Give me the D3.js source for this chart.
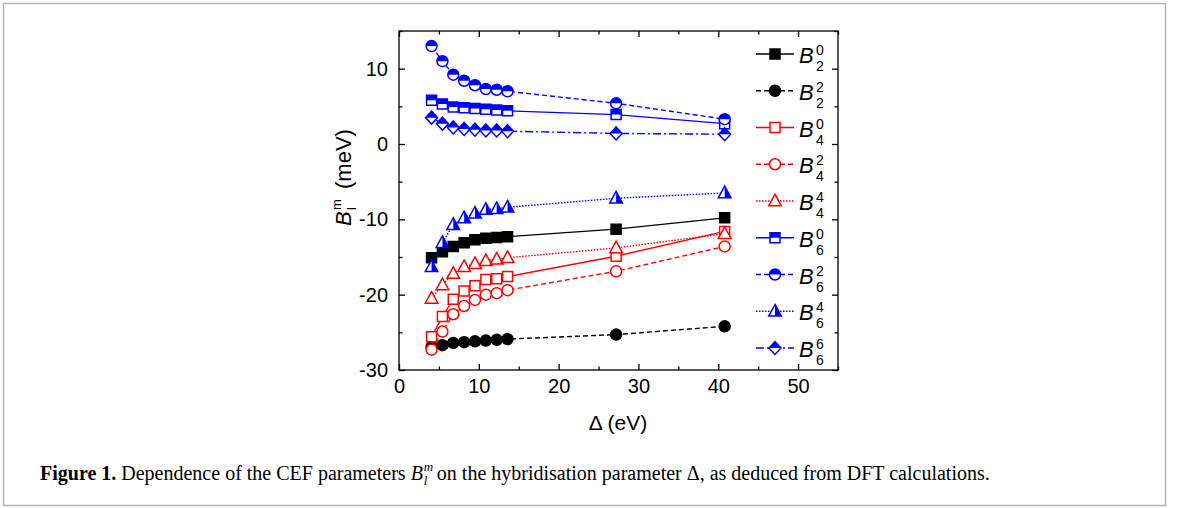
<!DOCTYPE html>
<html>
<head>
<meta charset="utf-8">
<script src="https://cdn.jsdelivr.net/npm/d3@7"></script>
<style>
  body { margin: 0; background: #fff; }
</style>
</head>
<body>
<svg id="chart" width="1179" height="508" font-family="'Liberation Sans', Arial, sans-serif"></svg>
<script>
// hybridisation parameter (eV)
const delta = [4.08, 5.44, 6.80, 8.16, 9.52, 10.88, 12.24, 13.6, 27.2, 40.8];

// CEF parameters (meV)
const B20 = [-15.1, -14.3, -13.6, -13.1, -12.7, -12.5, -12.4, -12.3, -11.3, -9.8];
const B22 = [-26.9, -26.7, -26.4, -26.3, -26.2, -26.1, -26.0, -25.9, -25.3, -24.2];
const B40 = [-25.6, -22.9, -20.6, -19.5, -18.8, -18.0, -17.9, -17.6, -14.9, -11.6];
const B42 = [-27.3, -24.9, -22.6, -21.5, -20.7, -20.0, -19.8, -19.4, -16.9, -13.6];
const B44 = [-20.5, -18.7, -17.2, -16.3, -15.9, -15.5, -15.3, -15.1, -13.8, -11.9];
const B60 = [5.8, 5.3, 4.9, 4.8, 4.7, 4.6, 4.5, 4.4, 3.9, 2.7];
const B62 = [13.0, 11.0, 9.2, 8.4, 7.8, 7.3, 7.2, 7.0, 5.4, 3.3];
const B64 = [-16.3, -13.1, -10.7, -9.8, -9.2, -8.7, -8.6, -8.4, -7.2, -6.5];
const B66 = [3.5, 2.7, 2.2, 2.0, 1.9, 1.8, 1.8, 1.7, 1.4, 1.3];

const xTicks = [0, 10, 20, 30, 40, 50];
const yTicks = [-30, -20, -10, 0, 10];

const series = [
  {l: 2, m: 0, values: B20, color: '#000', dash: null, shape: 'square', fill: 'full'},
  {l: 2, m: 2, values: B22, color: '#000', dash: '5,3', shape: 'circle', fill: 'full'},
  {l: 4, m: 0, values: B40, color: '#f00', dash: null, shape: 'square', fill: 'open'},
  {l: 4, m: 2, values: B42, color: '#f00', dash: '5,3', shape: 'circle', fill: 'open'},
  {l: 4, m: 4, values: B44, color: '#f00', dash: '1.5,1.5', shape: 'triangle', fill: 'open'},
  {l: 6, m: 0, values: B60, color: '#00f', dash: null, shape: 'square', fill: 'up'},
  {l: 6, m: 2, values: B62, color: '#00f', dash: '5,3', shape: 'circle', fill: 'up'},
  {l: 6, m: 4, values: B64, color: '#00f', dash: '1.5,1.5', shape: 'triangle', fill: 'right'},
  {l: 6, m: 6, values: B66, color: '#00f', dash: '8,3,2,3', shape: 'diamond', fill: 'up'}
]

const svg = d3.select('#chart')

// outer figure border
svg.append('rect')
  .attr('x', 3.5).attr('y', 3.5)
  .attr('width', 1162).attr('height', 502)
  .attr('fill', 'none')
  .attr('stroke', '#b4b4b4')
  .attr('stroke-width', 1.5)

const x = d3.scaleLinear().domain([0, 55]).range([399, 838])
const y = d3.scaleLinear().domain([-30, 15]).range([370, 31])

const defs = svg.append('defs')
defs.append('clipPath').attr('id', 'topHalf')
  .attr('clipPathUnits', 'objectBoundingBox')
  .append('rect').attr('x', -0.1).attr('y', -0.1).attr('width', 1.2).attr('height', 0.6)
defs.append('clipPath').attr('id', 'rightHalf')
  .attr('clipPathUnits', 'objectBoundingBox')
  .append('rect').attr('x', 0.5).attr('y', -0.1).attr('width', 0.6).attr('height', 1.2)

// plain hyphen minus like the original
const fmt = d => String(d)

// axes: ticks inward on all four sides
function addAxis(axisFn, transform, values, size, labels) {
  const a = axisFn
    .tickValues(values)
    .tickSize(-size)
    .tickPadding(labels ? 4 : 0)
    .tickFormat(labels ? fmt : '')
  const g = svg.append('g').attr('transform', transform).call(a)
  g.select('.domain').remove()
  g.selectAll('line').attr('stroke', '#000').attr('stroke-width', 1.3)
  g.selectAll('text')
    .attr('font-family', '"Liberation Sans", Arial, sans-serif')
    .attr('font-size', 20)
    .attr('fill', '#000')
  return g
}

const xMinor = [5, 15, 25, 35, 45, 55]
const yMinor = [-25, -15, -5, 5, 15]

const gx = addAxis(d3.axisBottom(x), 'translate(0,370)', xTicks, 6, true)
gx.selectAll('text').attr('dy', '0.95em')
addAxis(d3.axisBottom(x), 'translate(0,370)', xMinor, 3.5, false)
addAxis(d3.axisTop(x), 'translate(0,31)', xTicks, -6, false).selectAll('line').attr('y2', 6)
addAxis(d3.axisTop(x), 'translate(0,31)', xMinor, -3.5, false).selectAll('line').attr('y2', 3.5)

const gy = addAxis(d3.axisLeft(y), 'translate(399,0)', yTicks, 6, true)
gy.selectAll('text').attr('x', -11)
addAxis(d3.axisLeft(y), 'translate(399,0)', yMinor, 3.5, false)
addAxis(d3.axisRight(y), 'translate(838,0)', yTicks, 6, false).selectAll('line').attr('x2', -6)
addAxis(d3.axisRight(y), 'translate(838,0)', yMinor, 3.5, false).selectAll('line').attr('x2', -3.5)

// frame
svg.append('rect')
  .attr('x', x(0)).attr('y', y(15))
  .attr('width', x(55) - x(0)).attr('height', y(-30) - y(15))
  .attr('fill', 'none')
  .attr('stroke', '#000')
  .attr('stroke-width', 1.3)

function shapePath(shape) {
  if (shape == 'square') return 'M-5,-5H5V5H-5Z'
  if (shape == 'circle') return 'M-5.5,0A5.5,5.5 0 1,0 5.5,0A5.5,5.5 0 1,0 -5.5,0Z'
  if (shape == 'triangle') return 'M0,-6.8L6.3,4.8H-6.3Z'
  return 'M0,-6.5L6,0L0,6.5L-6,0Z'
}

function drawMarker(g, s, cx, cy) {
  const m = g.append('g').attr('transform', `translate(${cx},${cy})`)
  const d = shapePath(s.shape)
  m.append('path').attr('d', d)
    .attr('fill', s.fill == 'full' ? s.color : '#fff')
    .attr('stroke', s.color)
    .attr('stroke-width', 1.5)
  if (s.fill == 'up' || s.fill == 'right') {
    m.append('path').attr('d', d)
      .attr('fill', s.color)
      .attr('clip-path', s.fill == 'up' ? 'url(#topHalf)' : 'url(#rightHalf)')
  }
}

const line = d3.line()
  .x(d => x(d[0]))
  .y(d => y(d[1]))

const plotG = svg.append('g')
series.forEach(s => {
  const pts = delta.map((d, i) => [d, s.values[i]])
  plotG.append('path')
    .attr('d', line(pts))
    .attr('fill', 'none')
    .attr('stroke', s.color)
    .attr('stroke-width', 1.4)
    .attr('stroke-dasharray', s.dash)
  pts.forEach(p => drawMarker(plotG, s, x(p[0]), y(p[1])))
})

// legend
const legendY = d3.scalePoint()
  .domain(series.map((s, i) => i))
  .range([54, 348])

const legG = svg.append('g')
series.forEach((s, i) => {
  const ly = legendY(i)
  legG.append('line')
    .attr('x1', 756).attr('x2', 794)
    .attr('y1', ly).attr('y2', ly)
    .attr('stroke', s.color)
    .attr('stroke-width', 1.4)
    .attr('stroke-dasharray', s.dash)
  drawMarker(legG, s, 775, ly)
  legG.append('text')
    .attr('x', 799).attr('y', ly + 9)
    .attr('font-size', 22)
    .attr('font-style', 'italic')
    .text('B')
  legG.append('text')
    .attr('x', 816).attr('y', ly + 1)
    .attr('font-size', 14)
    .text(s.m)
  legG.append('text')
    .attr('x', 816).attr('y', ly + 17)
    .attr('font-size', 14)
    .text(s.l)
})

// axis titles
svg.append('text')
  .attr('x', 618).attr('y', 430)
  .attr('text-anchor', 'middle')
  .attr('font-size', 21)
  .text('Δ (eV)')

const yl = svg.append('g').attr('transform', 'translate(351,175) rotate(-90)')
yl.append('text').attr('x', -51).attr('y', 0)
  .attr('font-size', 22).attr('font-style', 'italic').text('B')
yl.append('text').attr('x', -35).attr('y', -10)
  .attr('font-size', 13).text('m')
yl.append('text').attr('x', -35).attr('y', 5)
  .attr('font-size', 13).text('l')
yl.append('text').attr('x', -14).attr('y', 0)
  .attr('font-size', 22).text('(meV)')

// caption
const capFont = '"Liberation Serif", "Times New Roman", serif'
const capSize = 20
const cap1 = svg.append('text')
  .attr('x', 40).attr('y', 480)
  .style('font-family', capFont)
  .attr('font-size', capSize)
cap1.append('tspan').attr('font-weight', 'bold').text('Figure 1.')
cap1.append('tspan').text(' Dependence of the CEF parameters ')
cap1.append('tspan').attr('font-style', 'italic').text('B')
const w1 = cap1.node().getComputedTextLength()

svg.append('text')
  .attr('x', 40 + w1 + 1).attr('y', 471)
  .style('font-family', capFont).attr('font-size', 13)
  .attr('font-style', 'italic').text('m')
svg.append('text')
  .attr('x', 40 + w1 + 1).attr('y', 485)
  .style('font-family', capFont).attr('font-size', 13)
  .attr('font-style', 'italic').text('l')

svg.append('text')
  .attr('x', 40 + w1 + 14).attr('y', 480)
  .style('font-family', capFont)
  .attr('font-size', capSize)
  .text('on the hybridisation parameter Δ, as deduced from DFT calculations.')
</script>
</body>
</html>
